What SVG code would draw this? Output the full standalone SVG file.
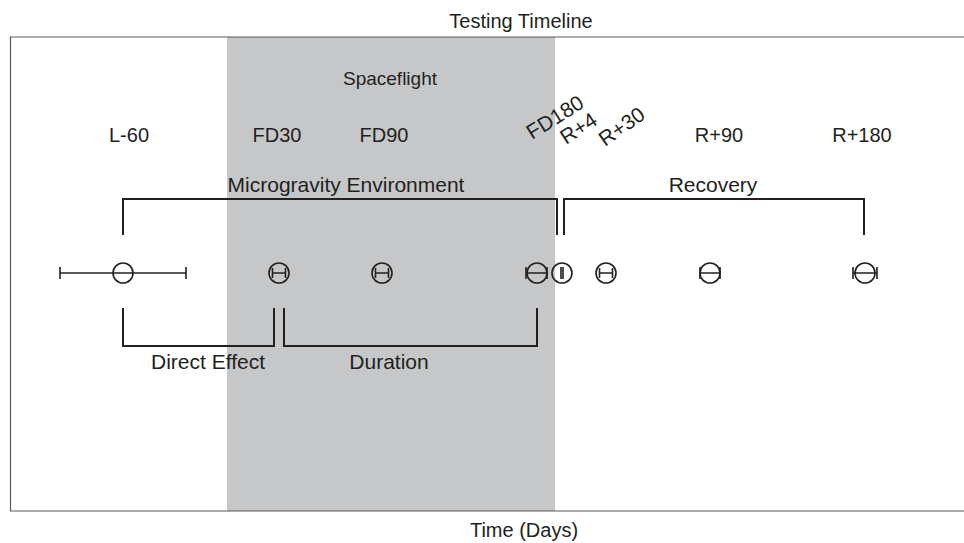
<svg xmlns="http://www.w3.org/2000/svg" width="964" height="543" viewBox="0 0 964 543">
<style>
text{font-family:"Liberation Sans",Arial,sans-serif;fill:#231f20}
.lbl{font-size:20px;text-anchor:middle}
.brk{fill:none;stroke:#231f20;stroke-width:2}
.pt circle{fill:none;stroke:#231f20;stroke-width:1.6}
.pt path{fill:none;stroke:#231f20;stroke-width:1.6}
</style>
<rect x="227" y="37" width="328" height="474" fill="#c6c7c9"/>
<path d="M964 37H10.5V511H964" fill="none" stroke="#58595b" stroke-width="1.2"/>
<text x="521" y="28" class="lbl" style="font-size:20px">Testing Timeline</text>
<text x="524" y="537" class="lbl" style="font-size:20px">Time (Days)</text>
<text x="390" y="85" class="lbl" style="font-size:19px">Spaceflight</text>
<g id="labels">
<text x="129" y="142" class="lbl">L-60</text>
<text x="277" y="142" class="lbl">FD30</text>
<text x="384" y="142" class="lbl">FD90</text>
<text x="719" y="142" class="lbl">R+90</text>
<text x="862" y="142" class="lbl">R+180</text>
<text transform="translate(532,140) rotate(-32)" style="font-size:21px">FD180</text>
<text transform="translate(566,145) rotate(-33)" style="font-size:21px">R+4</text>
<text transform="translate(605,147) rotate(-35)" style="font-size:21px">R+30</text>
</g>
<g id="connectors">
<g id="microgravity"><path class="brk" d="M123 235V199H557V235"/><text x="346" y="192" class="lbl" style="font-size:21px">Microgravity Environment</text></g>
<g id="recovery"><path class="brk" d="M564 235V199H864V235"/><text x="713" y="192" class="lbl" style="font-size:21px">Recovery</text></g>
<g id="direct"><path class="brk" d="M123 308V346H274V308"/><text x="208" y="369" class="lbl" style="font-size:21px">Direct Effect</text></g>
<g id="duration"><path class="brk" d="M284 308V346H537V308"/><text x="389" y="369" class="lbl" style="font-size:21px">Duration</text></g>
</g>
<g id="pL60" class="pt"><path d="M60 273H186M60 267V279M186 267V279" stroke="#414042"/><circle cx="123" cy="273" r="10"/></g>
<g id="pFD30" class="pt"><circle cx="279" cy="273" r="10"/><path d="M272.5 273H285.5M272.5 268V278M285.5 268V278"/></g>
<g id="pFD90" class="pt"><circle cx="382" cy="273" r="10"/><path d="M375.5 273H388.5M375.5 268V278M388.5 268V278"/></g>
<g id="pFD180" class="pt"><circle cx="537" cy="273" r="10"/><path d="M526 273H547M526 267V279M547 267V279"/></g>
<g id="pR4" class="pt"><circle cx="562" cy="273" r="10"/><path d="M561 267V279M563 267V279"/></g>
<g id="pR30" class="pt"><circle cx="606" cy="273" r="10"/><path d="M599.5 273H612.5M599.5 268V278M612.5 268V278"/></g>
<g id="pR90" class="pt"><circle cx="710" cy="273" r="10"/><path d="M700 273H720M700 267V279M720 267V279"/></g>
<g id="pR180" class="pt"><circle cx="865" cy="273" r="10"/><path d="M853 273H877M853 267V279M877 267V279"/></g>
</svg>
